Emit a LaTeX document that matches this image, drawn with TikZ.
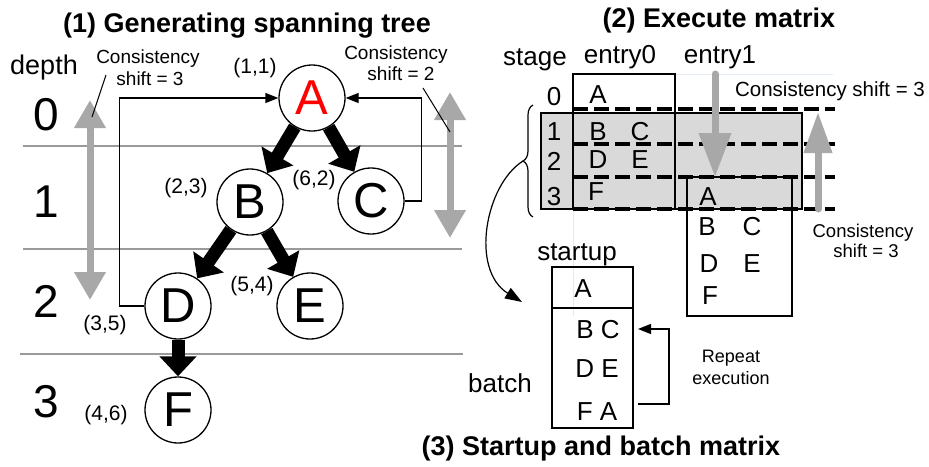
\documentclass[tikz,border=0pt]{standalone}
\usepackage{fontspec}
\setmainfont{Liberation Sans}
\usetikzlibrary{arrows.meta,decorations.pathreplacing}

\newcommand{\fs}[1]{\fontsize{#1}{#1}\selectfont}
\definecolor{arrowgray}{HTML}{A8A8A8}
\definecolor{rulegray}{HTML}{9A9A9A}
\definecolor{cellgray}{HTML}{D9D9D9}
\definecolor{faintblue}{HTML}{E4EAF4}

\begin{document}
\begin{tikzpicture}[x=1pt,y=-1pt,
  tnode/.style={circle, draw, line width=1.3pt, minimum size=66pt, inner sep=0pt, font=\fs{49}},
  bigarrow/.style={line width=13pt, -{Triangle[length=20pt,width=36pt]}},
  grayarrow/.style={line width=7pt, draw=arrowgray, {Triangle[length=28pt,width=30pt]}-{Triangle[length=28pt,width=30pt]}},
  fb/.style={line width=1.3pt, -{Triangle[length=13pt,width=10pt]}},
  txt/.style={anchor=base, inner sep=0pt},
  ttl/.style={txt, font=\fs{27}\bfseries},
  big/.style={txt, font=\fs{46}},
  mid/.style={txt, font=\fs{26}},
  coord/.style={txt, font=\fs{21}},
  note/.style={txt, font=\fs{19}},
  callout/.style={line width=1pt},
  dashline/.style={line width=3.5pt, dash pattern=on 15pt off 6pt},
  rule/.style={draw=rulegray, line width=1.5pt}]
\useasboundingbox (0,0) rectangle (929,466);

% ---------- (1) spanning tree ----------
\node[ttl] (t1) at (247,32) {(1) Generating spanning tree};

% depth bands
\draw[rule] (23,146) -- (462,146);
\draw[rule] (23,249) -- (462,249);
\draw[rule] (20,354) -- (463,354);

\node[txt, font=\fs{27}] (depth) at (44,74) {depth};
\node[big] (d0) at (46,130) {0};
\node[big] (d1) at (46,217) {1};
\node[big] (d2) at (46,317) {2};
\node[big] (d3) at (46,417) {3};

% consistency shift arrows
\coordinate (la1) at (90,100);
\coordinate (la2) at (90,300);
\coordinate (ra1) at (450,92);
\coordinate (ra2) at (450,238);
\draw[grayarrow] (la1) -- (la2);
\draw[grayarrow] (ra1) -- (ra2);

\node[note] (cl1) at (148,63) {Consistency};
\node[note] (cl2) at (150,85) {shift = 3};
\node[note] (cr1) at (396,59) {Consistency};
\node[note] (cr2) at (401,80) {shift = 2};
\coordinate (lc1) at (106,75);
\coordinate (lc2) at (92,117);
\coordinate (rc1) at (423,88);
\coordinate (rc2) at (450,132);
\draw[callout] (lc1) -- (lc2);
\draw[callout] (rc1) -- (rc2);

% tree nodes
\node[tnode, text=red] (A) at (312,98) {A};
\node[tnode] (B) at (250,202) {B};
\node[tnode] (C) at (371,201) {C};
\node[tnode] (D) at (178,306) {D};
\node[tnode] (E) at (310,306) {E};
\node[tnode] (F) at (178,410) {F};

\node[coord] (pA) at (255,73) {(1,1)};
\node[coord] (pB) at (186,193) {(2,3)};
\node[coord] (pC) at (314,185) {(6,2)};
\node[coord] (pD) at (105,330) {(3,5)};
\node[coord] (pE) at (252,291) {(5,4)};
\node[coord] (pF) at (106,420) {(4,6)};

\draw[bigarrow] (A) -- (B);
\draw[bigarrow] (A) -- (C);
\draw[bigarrow] (B) -- (D);
\draw[bigarrow] (B) -- (E);
\draw[bigarrow] (D) -- (F);

% feedback links to the root
\draw[fb] (D.west) -- ++(-25,0) |- (A.west);
\draw[fb] (C.east) -- ++(17,0) |- (A.east);

% ---------- (2) execute matrix ----------
\node[ttl] (t2) at (719,27) {(2) Execute matrix};
\node[mid] (stage) at (535,65) {stage};
\node[mid] (e0) at (620,63) {entry0};
\node[mid] (e1) at (720,63) {entry1};

% faint guide lines
\draw[faintblue, line width=1pt] (675,74) -- (833,74);
\draw[faintblue, line width=1pt] (573,209) -- (573,316);

\draw[fill=cellgray, line width=1.2pt] (541,113) rectangle (802,209);
\draw[line width=1.2pt] (573,74) rectangle (675,209);
\draw[line width=1.2pt] (687,177) rectangle (792,316);

\draw[dashline] (573,109) -- (835,109);
\draw[dashline] (573,144) -- (835,144);
\draw[dashline] (573,177) -- (835,177);
\draw[dashline] (573,209) -- (835,209);

\node[mid] (s0) at (554,105) {0};
\node[mid] (s1) at (554,140) {1};
\node[mid] (s2) at (554,170) {2};
\node[mid] (s3) at (554,205) {3};

\node[mid] (m0A) at (598,103) {A};
\node[mid] (m0B) at (598,140) {B};
\node[mid] (m0C) at (640,140) {C};
\node[mid] (m0D) at (598,168) {D};
\node[mid] (m0E) at (640,168) {E};
\node[mid] (m0F) at (596,200) {F};

\node[mid] (m1A) at (708,205) {A};
\node[mid] (m1B) at (707,235) {B};
\node[mid] (m1C) at (752,235) {C};
\node[mid] (m1D) at (709,272) {D};
\node[mid] (m1E) at (752,272) {E};
\node[mid] (m1F) at (710,304) {F};

\coordinate (dn1) at (715,74);
\coordinate (dn2) at (715,177);
\coordinate (up1) at (818,209);
\coordinate (up2) at (818,112);
\draw[line width=7pt, draw=arrowgray, line cap=round, -{Triangle[length=44pt,width=31pt]}] (dn1) -- (dn2);
\draw[line width=7pt, draw=arrowgray, line cap=round, -{Triangle[length=41pt,width=27pt]}] (up1) -- (up2);

\node[txt, font=\fs{20.5}] (cs3) at (830,96) {Consistency shift = 3};
\node[txt, font=\fs{18.5}] (cb1) at (863,237) {Consistency};
\node[txt, font=\fs{18.5}] (cb2) at (866,257) {shift = 3};

% brace over stages 1-3 and the arrow to the batch
\draw[decorate, decoration={brace, amplitude=10pt}, line width=1.2pt] (533,217) -- (533,105);
\coordinate (bt) at (523,161);
\coordinate (be) at (522,302);
\draw[line width=1.2pt, -{Triangle[length=17pt,width=12pt]}] (bt) .. controls (485,185) and (470,270) .. (be);

% ---------- (3) startup and batch ----------
\node[mid] (startup) at (577,260) {startup};
\node[mid] (batch) at (500,392) {batch};
\draw[line width=1.2pt] (552,267) rectangle (633,308);
\draw[line width=1.2pt] (552,308) rectangle (633,428);
\draw[line width=2pt] (552,308) -- (633,308);

\node[mid] (sA) at (583,297) {A};
\node[mid] (bBC) at (598,338) {B C};
\node[mid] (bDE) at (597,377) {D E};
\node[mid] (bFA) at (597,420) {F A};

\coordinate (rp1) at (638,404);
\coordinate (rp2) at (638,329);
\draw[fb] (rp1) -- (669,404) |- (rp2);
\node[txt, font=\fs{18}] (rep1) at (731,362) {Repeat};
\node[txt, font=\fs{18}] (rep2) at (731,384) {execution};

\node[ttl] (t3) at (601,455) {(3) Startup and batch matrix};
\end{tikzpicture}
\end{document}
